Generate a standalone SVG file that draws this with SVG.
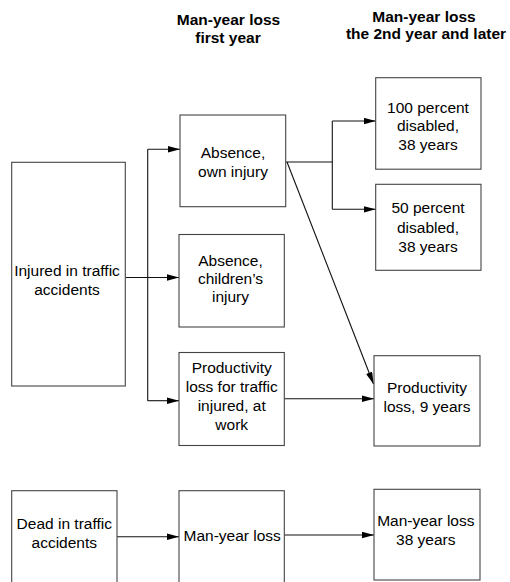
<svg xmlns="http://www.w3.org/2000/svg" width="510" height="582" viewBox="0 0 510 582">
<style>
.box{fill:#fff;stroke:#444;stroke-width:1.1}
.t{font-family:"Liberation Sans",Arial,sans-serif;font-size:15.5px;fill:#000;text-anchor:middle}
.h{font-family:"Liberation Sans",Arial,sans-serif;font-size:15.5px;font-weight:bold;fill:#000;text-anchor:middle}
.c{fill:none;stroke:#111;stroke-width:1.1}
</style>
<defs>
<marker id="arr" markerUnits="userSpaceOnUse" markerWidth="13" markerHeight="7" refX="12" refY="3.25" orient="auto">
<path d="M0,0 L12,3.25 L0,6.5 Z" fill="#000"/>
</marker>
</defs>
<g id="headers">
<text class="h" x="228.5" y="25">Man-year loss</text>
<text class="h" x="228" y="43">first year</text>
<text class="h" x="424" y="22">Man-year loss</text>
<text class="h" x="426" y="39">the 2nd year and later</text>
</g>
<g id="connectors">
<path class="c" d="M125.5,277.5 H179" marker-end="url(#arr)"/>
<path class="c" d="M147.7,149.3 V400.7"/>
<path class="c" d="M147.7,149.3 H180" marker-end="url(#arr)"/>
<path class="c" d="M147.7,400.7 H179" marker-end="url(#arr)"/>
<path class="c" d="M285.7,162 H332.3"/>
<path class="c" d="M332.3,121 V209.3"/>
<path class="c" d="M332.3,121 H375.7" marker-end="url(#arr)"/>
<path class="c" d="M332.3,209.3 H375.7" marker-end="url(#arr)"/>
<path class="c" d="M287,162 L373.5,384" marker-end="url(#arr)"/>
<path class="c" d="M284.3,398.7 H374" marker-end="url(#arr)"/>
<path class="c" d="M117,536.7 H179" marker-end="url(#arr)"/>
<path class="c" d="M284.3,535 H374" marker-end="url(#arr)"/>
</g>
<g id="injured">
<rect class="box" x="11.7" y="162.3" width="113.6" height="223.7"/>
<text class="t" x="67" y="275.5">Injured in traffic</text>
<text class="t" x="67" y="295">accidents</text>
</g>
<g id="absence-own">
<rect class="box" x="180" y="115" width="105.7" height="91.7"/>
<text class="t" x="233" y="158.3">Absence,</text>
<text class="t" x="233" y="176.5">own injury</text>
</g>
<g id="absence-children">
<rect class="box" x="179" y="234.5" width="105.3" height="92.5"/>
<text class="t" x="230.5" y="266">Absence,</text>
<text class="t" x="230.5" y="284">children’s</text>
<text class="t" x="230.5" y="301.7">injury</text>
</g>
<g id="productivity-first">
<rect class="box" x="179" y="352.5" width="105.3" height="93"/>
<text class="t" x="231.7" y="373.3">Productivity</text>
<text class="t" x="231.7" y="392.3">loss for traffic</text>
<text class="t" x="231.7" y="411.3">injured, at</text>
<text class="t" x="231.7" y="430">work</text>
</g>
<g id="disabled-100">
<rect class="box" x="375.7" y="77.7" width="105.3" height="91.5"/>
<text class="t" x="428" y="112.7">100 percent</text>
<text class="t" x="428" y="131.3">disabled,</text>
<text class="t" x="428" y="150">38 years</text>
</g>
<g id="disabled-50">
<rect class="box" x="375.7" y="184.3" width="105.3" height="86"/>
<text class="t" x="428" y="213.3">50 percent</text>
<text class="t" x="428" y="232.7">disabled,</text>
<text class="t" x="428" y="251.7">38 years</text>
</g>
<g id="productivity-9">
<rect class="box" x="374" y="355.7" width="106" height="90.3"/>
<text class="t" x="427" y="393.3">Productivity</text>
<text class="t" x="427" y="411.7">loss, 9 years</text>
</g>
<g id="dead">
<rect class="box" x="11.7" y="490.7" width="105.3" height="100"/>
<text class="t" x="64.3" y="528.5">Dead in traffic</text>
<text class="t" x="64.3" y="548.3">accidents</text>
</g>
<g id="manyear-first">
<rect class="box" x="179" y="490.7" width="105.3" height="100"/>
<text class="t" x="232.2" y="541">Man-year loss</text>
</g>
<g id="manyear-38">
<rect class="box" x="374" y="489.3" width="106" height="90.7"/>
<text class="t" x="425.8" y="526">Man-year loss</text>
<text class="t" x="425.8" y="545">38 years</text>
</g>
</svg>
